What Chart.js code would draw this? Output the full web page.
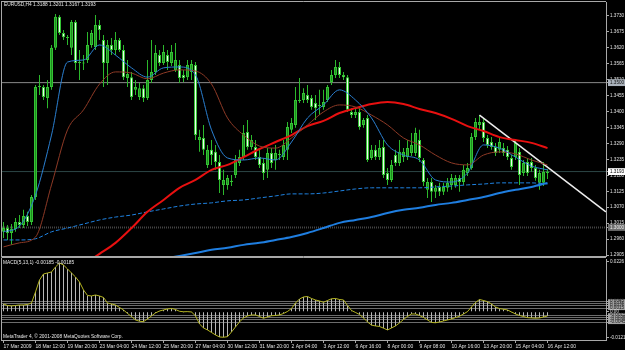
<!DOCTYPE html>
<html>
<head>
<meta charset="utf-8">
<script src="https://cdn.jsdelivr.net/npm/chart.js@4.4.1/dist/chart.umd.min.js"></script>
<style>
  html, body { margin: 0; padding: 0; background: #000; }
  #wrap { position: relative; width: 625px; height: 350px; background: #000; overflow: hidden; }
  #priceBox { position: absolute; left: 0; top: 0; width: 625px; height: 258px; }
  #macdBox { position: absolute; left: 0; top: 256px; width: 625px; height: 94px; }
  .lbl { position: absolute; color: #e8e8e8; font: 4.8px "Liberation Sans", sans-serif; line-height: 1; white-space: nowrap; }
</style>
</head>
<body>
<div id="wrap">
  <div id="priceBox"><canvas id="priceChart" width="625" height="258"></canvas></div>
  <div id="macdBox"><canvas id="macdChart" width="625" height="94"></canvas></div>
  <div class="lbl" style="left:4px; top:3px;">EURUSD,H4 1.3188 1.3201 1.3167 1.3193</div>
  <div class="lbl" style="left:3px; top:261px;">MACD(5,13,1) -0.00185 -0.00185</div>
  <div class="lbl" style="left:3px; top:335px;">MetaTrader 4, © 2001-2008 MetaQuotes Software Corp.</div>
</div>
<script>
// H4 bars, one row each: [open, high, low, close]
const ohlc = [
  [1.2985, 1.3019, 1.2964, 1.2998], [1.2998, 1.3009, 1.2957, 1.2981], [1.2981, 1.3012, 1.2940, 1.2995],
  [1.2995, 1.3033, 1.2985, 1.3019], [1.3019, 1.3043, 1.2998, 1.3009], [1.3009, 1.3061, 1.2998, 1.3040],
  [1.3040, 1.3054, 1.3005, 1.3019], [1.3019, 1.3112, 1.3009, 1.3105], [1.3105, 1.3492, 1.3095, 1.3485],
  [1.3485, 1.3526, 1.3457, 1.3488], [1.3485, 1.3492, 1.3440, 1.3450], [1.3447, 1.3509, 1.3412, 1.3485],
  [1.3485, 1.3630, 1.3475, 1.3620], [1.3620, 1.3737, 1.3613, 1.3727], [1.3727, 1.3733, 1.3664, 1.3671],
  [1.3671, 1.3682, 1.3647, 1.3657], [1.3657, 1.3664, 1.3630, 1.3654], [1.3620, 1.3716, 1.3595, 1.3709],
  [1.3709, 1.3716, 1.3544, 1.3568], [1.3568, 1.3613, 1.3509, 1.3571], [1.3568, 1.3595, 1.3544, 1.3566],
  [1.3578, 1.3675, 1.3568, 1.3630], [1.3630, 1.3682, 1.3620, 1.3671], [1.3623, 1.3733, 1.3613, 1.3699],
  [1.3699, 1.3716, 1.3647, 1.3682], [1.3647, 1.3664, 1.3485, 1.3568], [1.3568, 1.3647, 1.3492, 1.3630],
  [1.3630, 1.3654, 1.3595, 1.3613], [1.3613, 1.3675, 1.3595, 1.3647], [1.3647, 1.3654, 1.3606, 1.3613],
  [1.3613, 1.3630, 1.3509, 1.3519], [1.3516, 1.3578, 1.3485, 1.3530], [1.3519, 1.3537, 1.3440, 1.3450],
  [1.3475, 1.3509, 1.3457, 1.3485], [1.3450, 1.3499, 1.3440, 1.3481], [1.3481, 1.3492, 1.3433, 1.3447],
  [1.3447, 1.3578, 1.3440, 1.3509], [1.3509, 1.3647, 1.3499, 1.3537], [1.3537, 1.3630, 1.3526, 1.3602],
  [1.3595, 1.3613, 1.3557, 1.3568], [1.3568, 1.3630, 1.3561, 1.3606], [1.3595, 1.3613, 1.3544, 1.3571],
  [1.3568, 1.3630, 1.3557, 1.3606], [1.3544, 1.3637, 1.3537, 1.3578], [1.3561, 1.3578, 1.3499, 1.3516],
  [1.3526, 1.3544, 1.3502, 1.3516], [1.3519, 1.3578, 1.3509, 1.3561], [1.3537, 1.3578, 1.3509, 1.3564],
  [1.3561, 1.3571, 1.3302, 1.3319], [1.3302, 1.3337, 1.3261, 1.3312], [1.3309, 1.3354, 1.3250, 1.3268],
  [1.3216, 1.3285, 1.3205, 1.3268], [1.3268, 1.3302, 1.3216, 1.3250], [1.3261, 1.3285, 1.3199, 1.3226],
  [1.3226, 1.3250, 1.3119, 1.3164], [1.3147, 1.3199, 1.3112, 1.3164], [1.3147, 1.3181, 1.3130, 1.3171],
  [1.3157, 1.3181, 1.3143, 1.3161], [1.3181, 1.3250, 1.3171, 1.3233], [1.3223, 1.3268, 1.3212, 1.3243],
  [1.3243, 1.3354, 1.3233, 1.3326], [1.3330, 1.3371, 1.3268, 1.3278], [1.3278, 1.3319, 1.3268, 1.3302],
  [1.3278, 1.3302, 1.3233, 1.3243], [1.3243, 1.3268, 1.3205, 1.3216], [1.3223, 1.3240, 1.3164, 1.3188],
  [1.3199, 1.3274, 1.3171, 1.3257], [1.3257, 1.3274, 1.3205, 1.3223], [1.3233, 1.3285, 1.3199, 1.3257],
  [1.3250, 1.3268, 1.3233, 1.3254], [1.3243, 1.3302, 1.3233, 1.3285], [1.3268, 1.3364, 1.3233, 1.3347],
  [1.3337, 1.3378, 1.3326, 1.3361], [1.3354, 1.3485, 1.3344, 1.3440], [1.3440, 1.3516, 1.3430, 1.3437],
  [1.3440, 1.3481, 1.3430, 1.3464], [1.3457, 1.3492, 1.3430, 1.3440], [1.3447, 1.3457, 1.3406, 1.3416],
  [1.3430, 1.3457, 1.3371, 1.3412], [1.3423, 1.3475, 1.3388, 1.3419], [1.3416, 1.3475, 1.3406, 1.3433],
  [1.3440, 1.3492, 1.3433, 1.3485], [1.3502, 1.3544, 1.3492, 1.3526], [1.3526, 1.3578, 1.3516, 1.3554],
  [1.3554, 1.3571, 1.3516, 1.3526], [1.3526, 1.3537, 1.3509, 1.3519], [1.3519, 1.3526, 1.3399, 1.3406],
  [1.3399, 1.3412, 1.3378, 1.3388], [1.3388, 1.3412, 1.3378, 1.3399], [1.3399, 1.3412, 1.3337, 1.3347],
  [1.3354, 1.3378, 1.3344, 1.3371], [1.3378, 1.3388, 1.3226, 1.3233], [1.3240, 1.3285, 1.3233, 1.3268],
  [1.3268, 1.3285, 1.3233, 1.3243], [1.3243, 1.3302, 1.3233, 1.3274], [1.3278, 1.3302, 1.3171, 1.3181],
  [1.3188, 1.3205, 1.3147, 1.3164], [1.3164, 1.3233, 1.3157, 1.3216], [1.3250, 1.3268, 1.3212, 1.3223],
  [1.3223, 1.3302, 1.3212, 1.3261], [1.3243, 1.3274, 1.3226, 1.3261], [1.3243, 1.3302, 1.3233, 1.3274],
  [1.3257, 1.3326, 1.3247, 1.3285], [1.3257, 1.3344, 1.3247, 1.3326], [1.3302, 1.3337, 1.3226, 1.3240],
  [1.3233, 1.3240, 1.3143, 1.3157], [1.3130, 1.3171, 1.3102, 1.3157], [1.3157, 1.3171, 1.3088, 1.3123],
  [1.3123, 1.3147, 1.3102, 1.3137], [1.3140, 1.3154, 1.3109, 1.3123], [1.3123, 1.3154, 1.3112, 1.3140],
  [1.3137, 1.3171, 1.3123, 1.3154], [1.3147, 1.3185, 1.3130, 1.3171], [1.3147, 1.3181, 1.3137, 1.3171],
  [1.3171, 1.3181, 1.3123, 1.3157], [1.3157, 1.3216, 1.3147, 1.3199], [1.3188, 1.3223, 1.3178, 1.3205],
  [1.3205, 1.3326, 1.3199, 1.3312], [1.3312, 1.3378, 1.3302, 1.3364], [1.3354, 1.3388, 1.3337, 1.3364],
  [1.3364, 1.3378, 1.3295, 1.3309], [1.3309, 1.3319, 1.3274, 1.3285], [1.3295, 1.3312, 1.3268, 1.3278],
  [1.3278, 1.3292, 1.3247, 1.3257], [1.3268, 1.3309, 1.3257, 1.3295], [1.3274, 1.3292, 1.3247, 1.3257],
  [1.3268, 1.3281, 1.3233, 1.3243], [1.3240, 1.3250, 1.3199, 1.3209], [1.3243, 1.3299, 1.3233, 1.3292],
  [1.3261, 1.3274, 1.3147, 1.3181], [1.3188, 1.3233, 1.3178, 1.3223], [1.3226, 1.3240, 1.3178, 1.3188],
  [1.3226, 1.3240, 1.3192, 1.3205], [1.3205, 1.3216, 1.3161, 1.3171], [1.3154, 1.3199, 1.3130, 1.3188],
  [1.3154, 1.3226, 1.3143, 1.3192], [1.3188, 1.3201, 1.3167, 1.3193]
];

// moving averages, read every 4th bar
const maIdx = [0, 4, 8, 12, 16, 20, 24, 28, 32, 36, 40, 44, 48, 52, 56, 60, 64, 68,
  72, 76, 80, 84, 88, 92, 96, 100, 104, 108, 112, 116, 120, 124, 128, 132, 136];
const fastMA = [1.2985, 1.3005, 1.3112, 1.3319, 1.3571, 1.3578, 1.3630, 1.3595, 1.3551, 1.3519,
  1.3551, 1.3554, 1.3526, 1.3337, 1.3240, 1.3233, 1.3240, 1.3233, 1.3295, 1.3378, 1.3423, 1.3475,
  1.3440, 1.3378, 1.3285, 1.3250, 1.3233, 1.3164, 1.3157, 1.3188, 1.3285, 1.3274, 1.3243, 1.3212, 1.3199];
const midMA = [1.2933, 1.2947, 1.2967, 1.3147, 1.3337, 1.3406, 1.3495, 1.3537, 1.3533, 1.3513,
  1.3533, 1.3544, 1.3540, 1.3495, 1.3378, 1.3319, 1.3281, 1.3274, 1.3309, 1.3354, 1.3399, 1.3423,
  1.3416, 1.3388, 1.3354, 1.3309, 1.3285, 1.3250, 1.3223, 1.3216, 1.3250, 1.3261, 1.3254, 1.3233, 1.3216];
const slowMA = [null, null, null, null, null, 1.2872, 1.2909, 1.2947, 1.2998, 1.3054,
  1.3095, 1.3137, 1.3164, 1.3199, 1.3216, 1.3243, 1.3271, 1.3295, 1.3319, 1.3350, 1.3368, 1.3395,
  1.3412, 1.3426, 1.3433, 1.3426, 1.3409, 1.3395, 1.3375, 1.3350, 1.3333, 1.3312, 1.3302, 1.3292, 1.3274];
const dashMA = [1.2957, 1.2957, 1.2961, 1.2985, 1.2998, 1.3012, 1.3026, 1.3036, 1.3043, 1.3054,
  1.3064, 1.3074, 1.3081, 1.3085, 1.3092, 1.3095, 1.3102, 1.3109, 1.3116, 1.3116, 1.3119, 1.3126,
  1.3133, 1.3137, 1.3137, 1.3137, 1.3137, 1.3140, 1.3143, 1.3147, 1.3150, 1.3154, 1.3154, 1.3154, 1.3150];
const longMA = [null, null, null, null, null, null, null, null, null, null,
  1.2892, 1.2902, 1.2912, 1.2923, 1.2930, 1.2940, 1.2947, 1.2957, 1.2967, 1.2981, 1.2998, 1.3016,
  1.3026, 1.3036, 1.3050, 1.3061, 1.3068, 1.3078, 1.3085, 1.3095, 1.3105, 1.3119, 1.3130, 1.3140, 1.3154];

const trendBars = [119, 150.6];
const trendPrices = [1.3388, 1.3054];
const hLevels = [1.3500, 1.3193, 1.3000];   // 1.35 line, bid, 1.30 line

const priceTicks = [1.3730, 1.3675, 1.3620, 1.3565, 1.3510, 1.3455, 1.3400, 1.3345, 1.3290,
  1.3235, 1.3180, 1.3125, 1.3070, 1.3015, 1.2960, 1.2905];

// MACD(5,13,1), one value per bar
const macd = [
  0.00330, 0.00266, 0.00245, 0.00266, 0.00287, 0.00287, 0.00309, 0.00373, 0.00845, 0.01360,
  0.01617, 0.01660, 0.01703, 0.01918, 0.02089, 0.02003, 0.01832, 0.01660, 0.01489, 0.01274,
  0.00931, 0.00695, 0.00674, 0.00716, 0.00674, 0.00609, 0.00373, 0.00330, 0.00287, 0.00180,
  0.00073, -0.00077, -0.00206, -0.00356, -0.00412, -0.00429, -0.00313, -0.00184, -0.00056, 0.00030,
  0.00073, 0.00116, 0.00137, 0.00094, 0.00017, -0.00005, 0.00002, -0.00013, -0.00184, -0.00528,
  -0.00699, -0.00785, -0.00892, -0.01000, -0.01085, -0.01098, -0.01073, -0.00871, -0.00656, -0.00442,
  -0.00270, -0.00184, -0.00142, -0.00142, -0.00206, -0.00283, -0.00227, -0.00176, -0.00163, -0.00142,
  -0.00077, 0.00009, 0.00137, 0.00373, 0.00545, 0.00631, 0.00652, 0.00566, 0.00502, 0.00459,
  0.00403, 0.00480, 0.00553, 0.00566, 0.00523, 0.00502, 0.00266, 0.00051, -0.00034, -0.00120,
  -0.00270, -0.00442, -0.00579, -0.00613, -0.00635, -0.00708, -0.00785, -0.00699, -0.00613, -0.00485,
  -0.00335, -0.00206, -0.00099, -0.00099, -0.00163, -0.00249, -0.00356, -0.00463, -0.00476, -0.00442,
  -0.00399, -0.00356, -0.00313, -0.00253, -0.00197, -0.00099, 0.00002, 0.00202, 0.00395, 0.00523,
  0.00480, 0.00429, 0.00330, 0.00202, 0.00133, 0.00103, 0.00073, -0.00013, -0.00099, -0.00163,
  -0.00210, -0.00257, -0.00270, -0.00279, -0.00270, -0.00227, -0.00185
];
const macdLevels = [0.0045, 0.0035, 0.0025, 0.0015, -0.0015, -0.0025, -0.0035, -0.0045];
const macdTickVals = [0.0215, 0.0045, 0.0035, 0.0025, 0.0015, 0, -0.0015, -0.0025, -0.0035, -0.0045, -0.0111];
const macdTickText = ['0.0226', '0.0045', '0.0035', '0.0025', '0.0015', '0.00', '-0.0015', '-0.0025', '-0.0035', '-0.0045', '-0.01216'];

const timeLabels = ['17 Mar 2009', '18 Mar 12:00', '19 Mar 20:00', '23 Mar 04:00', '24 Mar 12:00',
  '25 Mar 20:00', '27 Mar 04:00', '30 Mar 12:00', '31 Mar 20:00', '2 Apr 04:00', '3 Apr 12:00',
  '6 Apr 16:00', '8 Apr 00:00', '9 Apr 08:00', '10 Apr 16:00', '13 Apr 20:00', '15 Apr 04:00', '16 Apr 12:00'];

// ---- shared bits ----
const X_MIN = -0.375, X_MAX = 150.625;   // 4px per bar
const tickFont = { family: 'Liberation Sans', size: 4.6, lineHeight: 0.4 };
const axisGray = '#a8a8a8';

const levelIndex = (v) => hLevels.findIndex((h) => Math.abs(h - v) < 1e-7);
const levelBox = ['#aab2bb', '#ffffff', '#6e6e6e'];
const levelInk = ['#101010', '#000000', '#eeeeee'];

const paneFrame = {
  id: 'paneFrame',
  afterDraw(chart, args, opts) {
    const { ctx, chartArea: a } = chart;
    ctx.save();
    ctx.strokeStyle = axisGray;
    ctx.lineWidth = 1;
    ctx.beginPath();
    ctx.moveTo(a.left - 0.5, a.top - opts.topGap);
    ctx.lineTo(a.right, a.top - opts.topGap);
    ctx.moveTo(a.left - 0.5, a.top - 1);
    ctx.lineTo(a.left - 0.5, a.bottom + 1);
    if (opts.bottom) {
      ctx.moveTo(a.left - 1, a.bottom + 0.5);
      ctx.lineTo(a.right, a.bottom + 0.5);
    }
    ctx.stroke();
    ctx.restore();
  }
};

const maLine = (vals, color, width, dash) => ({
  type: 'line',
  data: maIdx.map((x, k) => ({ x, y: vals[k] })),
  borderColor: color,
  borderWidth: width,
  borderDash: dash || [],
  pointRadius: 0,
  cubicInterpolationMode: 'monotone',
  order: 0
});

const hLine = (v, color, width, dash) => ({
  type: 'line',
  data: [{ x: X_MIN, y: v }, { x: X_MAX, y: v }],
  borderColor: color,
  borderWidth: width,
  borderDash: dash || [],
  pointRadius: 0,
  order: 6
});

// ---- price pane ----
new Chart(document.getElementById('priceChart'), {
  type: 'bar',
  data: {
    datasets: [
      maLine(fastMA, '#2a7fd0', 1),
      maLine(midMA, '#8e3a26', 1),
      maLine(slowMA, '#e81010', 2),
      maLine(dashMA, '#1f82e0', 1, [4, 2]),
      maLine(longMA, '#1f7ee0', 2),
      {
        type: 'line',
        data: trendBars.map((x, k) => ({ x, y: trendPrices[k] })),
        borderColor: '#eeeeee', borderWidth: 1.5, pointRadius: 0, order: 0
      },
      {
        label: 'body',
        data: ohlc.map((r, i) => ({ x: i, y: [r[0], r[3]] })),
        backgroundColor: ohlc.map((r) => (r[3] >= r[0] ? '#1f8c1f' : '#eefaee')),
        borderColor: '#33c433',
        borderWidth: 1,
        borderSkipped: false,
        barThickness: 3,
        minBarLength: 1,
        inflateAmount: 0,
        grouped: false,
        order: 2
      },
      {
        label: 'wick',
        data: ohlc.map((r, i) => ({ x: i, y: [r[2], r[1]] })),
        backgroundColor: '#2cb82c',
        barThickness: 1,
        inflateAmount: 0,
        grouped: false,
        order: 3
      },
      hLine(hLevels[0], '#8a8a8a', 1),
      hLine(hLevels[1], '#2c4646', 1),
      hLine(hLevels[2], '#444444', 2, [1, 1])
    ]
  },
  options: {
    responsive: false,
    animation: false,
    events: [],
    layout: { padding: { left: 2, top: 2, right: 0, bottom: 2 } },
    plugins: { legend: { display: false }, tooltip: { enabled: false }, paneFrame: { topGap: 0.5, bottom: true } },
    scales: {
      x: { type: 'linear', display: false, min: X_MIN, max: X_MAX, offset: false, grid: { offset: false } },
      y: {
        position: 'right',
        min: 1.29016,
        max: 1.37783,
        bounds: 'data',
        beginAtZero: false,
        afterFit: (s) => { s.width = 19; },
        afterBuildTicks: (s) => { s.ticks = priceTicks.concat(hLevels).map((value) => ({ value })); },
        ticks: {
          autoSkip: false,
          padding: 1,
          font: tickFont,
          callback: (v) => Number(v).toFixed(4),
          color: (c) => { const k = levelIndex(c.tick.value); return k < 0 ? '#e0e0e0' : levelInk[k]; },
          showLabelBackdrop: (c) => levelIndex(c.tick.value) >= 0,
          backdropColor: (c) => { const k = levelIndex(c.tick.value); return k < 0 ? 'rgba(0,0,0,0)' : levelBox[k]; },
          backdropPadding: { left: 2, right: 6, top: 2.5, bottom: 2.5 }
        },
        grid: { drawOnChartArea: false, tickLength: 3, color: axisGray },
        border: { display: true, color: axisGray }
      }
    }
  },
  plugins: [paneFrame]
});

// ---- MACD pane ----
const isLevel = (v) => macdLevels.some((l) => Math.abs(l - v) < 1e-7);

new Chart(document.getElementById('macdChart'), {
  type: 'bar',
  data: {
    datasets: [
      {
        type: 'line',
        data: macd.map((v, i) => ({ x: i, y: v })),
        borderColor: '#b4b41e', borderWidth: 1, pointRadius: 0, order: 0
      },
      {
        data: macd.map((v, i) => ({ x: i, y: v })),
        backgroundColor: '#b8b8b8',
        barThickness: 1,
        inflateAmount: 0,
        order: 1
      }
    ]
  },
  options: {
    responsive: false,
    animation: false,
    events: [],
    layout: { padding: { left: 2, top: 3, right: 0, bottom: 0 } },
    plugins: { legend: { display: false }, tooltip: { enabled: false }, paneFrame: { topGap: 1.5, bottom: false } },
    scales: {
      x: {
        type: 'linear',
        min: X_MIN,
        max: X_MAX,
        offset: false,
        afterFit: (s) => { s.height = 10; },
        afterBuildTicks: (s) => { s.ticks = timeLabels.map((t, k) => ({ value: k * 8 })); },
        ticks: {
          autoSkip: false,
          maxRotation: 0,
          align: 'start',
          padding: 1,
          font: { family: 'Liberation Sans', size: 5 },
          color: '#e0e0e0',
          callback: (v, i) => timeLabels[i]
        },
        grid: { drawOnChartArea: false, tickLength: 3, color: axisGray, offset: false },
        border: { display: true, color: axisGray }
      },
      y: {
        position: 'right',
        min: -0.01216,
        max: 0.0226,
        bounds: 'data',
        beginAtZero: false,
        afterFit: (s) => { s.width = 19; },
        afterBuildTicks: (s) => { s.ticks = macdTickVals.map((value) => ({ value })); },
        ticks: {
          autoSkip: false,
          padding: 1,
          font: tickFont,
          callback: (v, i) => macdTickText[i],
          color: (c) => (isLevel(c.tick.value) ? '#181818' : '#e0e0e0'),
          showLabelBackdrop: (c) => isLevel(c.tick.value),
          backdropColor: '#a4a4a4',
          backdropPadding: { left: 2, right: 3, top: 1, bottom: 1 }
        },
        grid: {
          drawOnChartArea: true,
          tickLength: 3,
          color: (c) => (isLevel(c.tick.value) ? '#6c6c6c' : 'rgba(0,0,0,0)'),
          tickColor: axisGray
        },
        border: { display: true, color: axisGray }
      }
    }
  },
  plugins: [paneFrame]
});
</script>
</body>
</html>
